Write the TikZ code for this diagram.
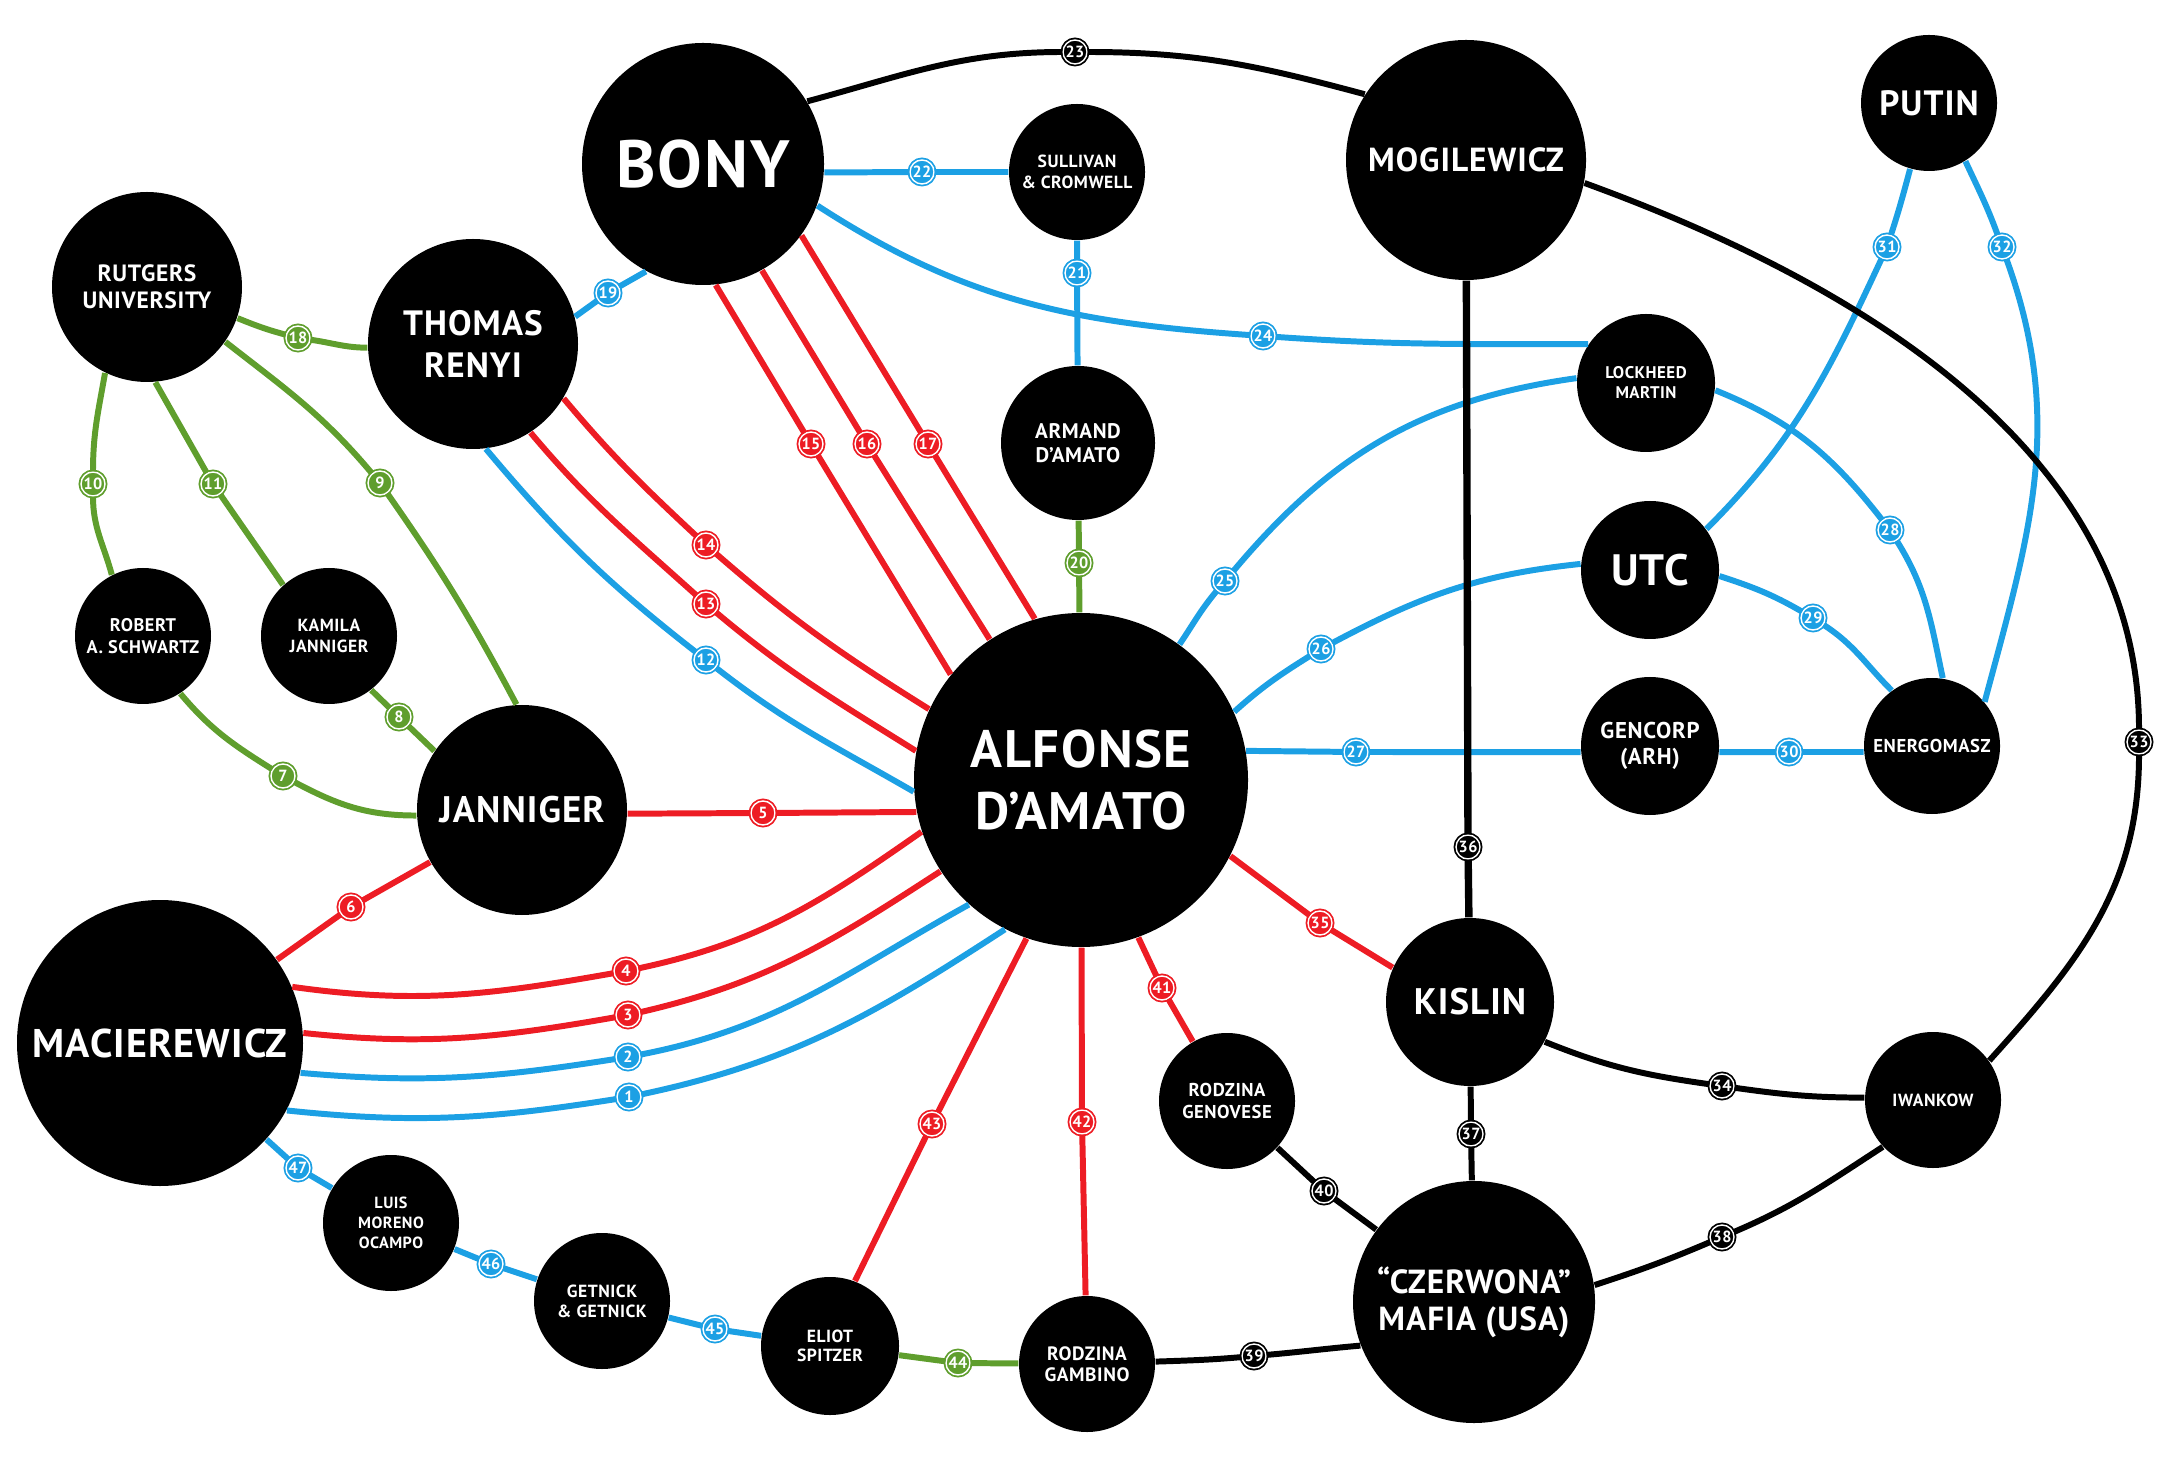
\documentclass[tikz,border=0pt]{standalone}
\usepackage{fontspec}
\setmainfont{PT Sans}[LetterSpace=3]
\usepackage{tikz}
\definecolor{linkred}{RGB}{237,28,36}
\definecolor{linkblue}{RGB}{28,160,228}
\definecolor{linkgreen}{RGB}{95,158,45}
\newcommand{\fsz}[2]{\fontsize{#1}{#2}\selectfont\bfseries}
\tikzset{
	man/.style={circle, fill=black, text=white, align=center, inner sep=0pt}, % the black discs
	badge/.style={circle, fill=#1, text=white, draw=white, line width=0.4pt, inner sep=0pt,
		minimum size=2.4mm, font=\fsz{4.6}{4.6}, preaction={draw=#1, line width=1.4pt}}, % numbered dots on the links
	redlink/.style={line width=1.7pt, linkred},
	bluelink/.style={line width=1.7pt, linkblue},
	greenlink/.style={line width=1.7pt, linkgreen},
	blacklink/.style={line width=1.7pt, black},
}

\begin{document}
\begin{tikzpicture}
	\useasboundingbox (0,0) rectangle (21.63,-14.79);
	% people and firms
	\node[man, minimum size=1.90cm, font=\fsz{6.7}{7.8}] (rutgers) at (1.47,-2.87) {RUTGERS\\UNIVERSITY};
	\node[man, minimum size=2.10cm, font=\fsz{10}{12.2}] (renyi) at (4.73,-3.44) {THOMAS\\RENYI};
	\node[man, minimum size=2.42cm, font=\fsz{19}{19}] (bony) at (7.03,-1.64) {BONY};
	\node[man, minimum size=1.36cm, font=\fsz{5}{5.8}] (sullivan) at (10.77,-1.72) {SULLIVAN\\\& CROMWELL};
	\node[man, minimum size=2.40cm, font=\fsz{9.5}{9.5}] (mogilewicz) at (14.66,-1.60) {MOGILEWICZ};
	\node[man, minimum size=1.36cm, font=\fsz{10}{10}] (putin) at (19.29,-1.03) {PUTIN};
	\node[man, minimum size=1.38cm, font=\fsz{4.8}{5.7}] (lockheed) at (16.46,-3.83) {LOCKHEED\\MARTIN};
	\node[man, minimum size=1.54cm, font=\fsz{6}{6.8}] (armand) at (10.78,-4.43) {ARMAND\\D'AMATO};
	\node[man, minimum size=1.38cm, font=\fsz{12.5}{12.5}] (utc) at (16.50,-5.70) {UTC};
	\node[man, minimum size=1.36cm, font=\fsz{5.2}{6.1}] (robert) at (1.43,-6.36) {ROBERT\\A. SCHWARTZ};
	\node[man, minimum size=1.36cm, font=\fsz{5}{6}] (kamila) at (3.29,-6.36) {KAMILA\\JANNIGER};
	\node[man, minimum size=3.34cm, font=\fsz{15}{17.6}] (alfonse) at (10.81,-7.80) {ALFONSE\\D'AMATO};
	\node[man, minimum size=1.38cm, font=\fsz{6.5}{7.5}] (gencorp) at (16.50,-7.46) {GENCORP\\(ARH)};
	\node[man, minimum size=1.36cm, font=\fsz{5.3}{5.3}] (energomasz) at (19.32,-7.46) {ENERGOMASZ};
	\node[man, minimum size=2.10cm, font=\fsz{10.5}{10.5}] (janniger) at (5.22,-8.10) {JANNIGER};
	\node[man, minimum size=2.86cm, font=\fsz{11.4}{11.4}] (macierewicz) at (1.60,-10.43) {MACIEREWICZ};
	\node[man, minimum size=1.68cm, font=\fsz{10.5}{10.5}] (kislin) at (14.70,-10.02) {KISLIN};
	\node[man, minimum size=1.36cm, font=\fsz{5.3}{6.4}] (genovese) at (12.27,-11.01) {RODZINA\\GENOVESE};
	\node[man, minimum size=1.36cm, font=\fsz{5}{5}] (iwankow) at (19.33,-11.00) {IWANKOW};
	\node[man, minimum size=1.36cm, font=\fsz{4.6}{5.6}] (ocampo) at (3.91,-12.23) {LUIS\\MORENO\\OCAMPO};
	\node[man, minimum size=1.36cm, font=\fsz{5}{5.6}] (getnick) at (6.02,-13.01) {GETNICK\\\& GETNICK};
	\node[man, minimum size=1.38cm, font=\fsz{5}{5.4}] (spitzer) at (8.30,-13.46) {ELIOT\\SPITZER};
	\node[man, minimum size=1.36cm, font=\fsz{5.5}{6.1}] (gambino) at (10.87,-13.64) {RODZINA\\GAMBINO};
	\node[man, minimum size=2.42cm, font=\fsz{9.5}{10.5}] (czerwona) at (14.74,-13.02) {“CZERWONA”\\MAFIA (USA)};

	% numbered dots
	\node[badge=linkblue] (b1) at (6.29,-10.97) {1};
	\node[badge=linkblue] (b2) at (6.28,-10.57) {2};
	\node[badge=linkred] (b3) at (6.28,-10.15) {3};
	\node[badge=linkred] (b4) at (6.26,-9.71) {4};
	\node[badge=linkred] (b5) at (7.63,-8.13) {5};
	\node[badge=linkred] (b6) at (3.51,-9.07) {6};
	\node[badge=linkgreen] (b7) at (2.83,-7.76) {7};
	\node[badge=linkgreen] (b8) at (3.99,-7.17) {8};
	\node[badge=linkgreen] (b9) at (3.80,-4.83) {9};
	\node[badge=linkgreen] (b10) at (0.93,-4.84) {10};
	\node[badge=linkgreen] (b11) at (2.13,-4.84) {11};
	\node[badge=linkblue] (b12) at (7.06,-6.60) {12};
	\node[badge=linkred] (b13) at (7.06,-6.04) {13};
	\node[badge=linkred] (b14) at (7.06,-5.45) {14};
	\node[badge=linkred] (b15) at (8.11,-4.44) {15};
	\node[badge=linkred] (b16) at (8.67,-4.44) {16};
	\node[badge=linkred] (b17) at (9.28,-4.44) {17};
	\node[badge=linkgreen] (b18) at (2.98,-3.38) {18};
	\node[badge=linkblue] (b19) at (6.08,-2.93) {19};
	\node[badge=linkgreen] (b20) at (10.79,-5.63) {20};
	\node[badge=linkblue] (b21) at (10.77,-2.73) {21};
	\node[badge=linkblue] (b22) at (9.22,-1.72) {22};
	\node[badge=black] (b23) at (10.75,-0.52) {23};
	\node[badge=linkblue] (b24) at (12.63,-3.36) {24};
	\node[badge=linkblue] (b25) at (12.25,-5.81) {25};
	\node[badge=linkblue] (b26) at (13.21,-6.49) {26};
	\node[badge=linkblue] (b27) at (13.56,-7.52) {27};
	\node[badge=linkblue] (b28) at (18.90,-5.30) {28};
	\node[badge=linkblue] (b29) at (18.13,-6.18) {29};
	\node[badge=linkblue] (b30) at (17.89,-7.52) {30};
	\node[badge=linkblue] (b31) at (18.87,-2.47) {31};
	\node[badge=linkblue] (b32) at (20.02,-2.47) {32};
	\node[badge=black] (b33) at (21.39,-7.42) {33};
	\node[badge=black] (b34) at (17.22,-10.86) {34};
	\node[badge=linkred] (b35) at (13.20,-9.23) {35};
	\node[badge=black] (b36) at (14.68,-8.47) {36};
	\node[badge=black] (b37) at (14.71,-11.34) {37};
	\node[badge=black] (b38) at (17.22,-12.37) {38};
	\node[badge=black] (b39) at (12.54,-13.56) {39};
	\node[badge=black] (b40) at (13.24,-11.91) {40};
	\node[badge=linkred] (b41) at (11.62,-9.88) {41};
	\node[badge=linkred] (b42) at (10.82,-11.22) {42};
	\node[badge=linkred] (b43) at (9.32,-11.24) {43};
	\node[badge=linkgreen] (b44) at (9.58,-13.63) {44};
	\node[badge=linkblue] (b45) at (7.15,-13.29) {45};
	\node[badge=linkblue] (b46) at (4.91,-12.64) {46};
	\node[badge=linkblue] (b47) at (2.98,-11.68) {47};

	% green links
	\draw[greenlink] (rutgers.-19) to[out=-22,in=165] (b18) to[out=-8,in=180] (renyi.182);
	\draw[greenlink] (rutgers.-116) to[out=-100,in=90] (b10) to[out=-90,in=105] (robert.117);
	\draw[greenlink] (rutgers.-85) -- (b11) -- (kamila.132);
	\draw[greenlink] (rutgers.-35) to[out=-38,in=130] (b9) to[out=-55,in=118] (janniger.93);
	\draw[greenlink] (robert.-57) to[out=-50,in=148] (b7) to[out=-28,in=180] (janniger.183);
	\draw[greenlink] (kamila.-52) -- (b8) -- (janniger.146);
	\draw[greenlink] (armand) -- (b20) -- (alfonse);
	\draw[greenlink] (spitzer) -- (b44) -- (gambino);

	% red links
	\draw[redlink] (macierewicz) -- (b6) -- (janniger);
	\draw[redlink] (janniger.-2) -- (b5) -- (alfonse.191);
	\draw[redlink] (macierewicz.23) to[out=-8,in=190] (b4) to[out=12,in=215] (alfonse.198);
	\draw[redlink] (macierewicz.4) to[out=-6,in=190] (b3) to[out=13,in=213] (alfonse.213);
	\draw[redlink] (renyi.-31) to[out=-50,in=137] (b14) to[out=-41,in=148] (alfonse.155);
	\draw[redlink] (renyi.-57) to[out=-50,in=138] (b13) to[out=-40,in=148] (alfonse.170);
	\draw[redlink] (bony.-84) -- (b15) -- (alfonse.141);
	\draw[redlink] (bony.-61) -- (b16) -- (alfonse.123);
	\draw[redlink] (bony.-36) -- (b17) -- (alfonse.106);
	\draw[redlink] (alfonse.-27) -- (b35) -- (kislin.156);
	\draw[redlink] (alfonse.-70) -- (b41) -- (genovese);
	\draw[redlink] (alfonse) -- (b42) -- (gambino);
	\draw[redlink] (alfonse.-109) -- (b43) -- (spitzer.69);

	% blue links
	\draw[bluelink] (macierewicz.-12) to[out=-5,in=189] (b2) to[out=11,in=209] (alfonse.228);
	\draw[bluelink] (macierewicz.-28) to[out=-6,in=189] (b1) to[out=12,in=213] (alfonse.243);
	\draw[bluelink] (renyi.-83) to[out=-50,in=142] (b12) to[out=-38,in=150] (alfonse.184);
	\draw[bluelink] (renyi.15) -- (b19) -- (bony.-118);
	\draw[bluelink] (bony.-4) -- (b22) -- (sullivan);
	\draw[bluelink] (sullivan) -- (b21) -- (armand);
	\draw[bluelink] (bony.-20) to[out=-33,in=176] (b24) to[out=-4,in=180] (lockheed.146);
	\draw[bluelink] (alfonse.54) to[out=56,in=230] (b25) to[out=50,in=188] (lockheed.176);
	\draw[bluelink] (alfonse.24) to[out=42,in=212] (b26) to[out=28,in=186] (utc.175);
	\draw[bluelink] (alfonse.10) -- (b27) -- (gencorp.185);
	\draw[bluelink] (gencorp.-5) -- (b30) -- (energomasz.185);
	\draw[bluelink] (lockheed.-6) to[out=-22,in=128] (b28) to[out=-58,in=102] (energomasz.81);
	\draw[bluelink] (utc.-5) to[out=-18,in=150] (b29) to[out=-33,in=135] (energomasz.126);
	\draw[bluelink] (utc.36) to[out=45,in=-115] (b31) to[out=72,in=-105] (putin.-106);
	\draw[bluelink] (putin.-58) to[out=-65,in=110] (b32) to[out=-70,in=75] (energomasz.40);
	\draw[bluelink] (macierewicz) -- (b47) -- (ocampo);
	\draw[bluelink] (ocampo) -- (b46) -- (getnick);
	\draw[bluelink] (getnick) -- (b45) -- (spitzer);

	% black links
	\draw[blacklink] (bony.31) to[out=15,in=180] (b23) to[out=0,in=165] (mogilewicz.147);
	\draw[blacklink] (mogilewicz.-11) to[out=-20,in=90,looseness=0.93] (b33) to[out=-90,in=48] (iwankow.35);
	\draw[blacklink, line width=2.1pt] (mogilewicz) -- (b36) -- (kislin);
	\draw[blacklink] (kislin) -- (b37) -- (czerwona);
	\draw[blacklink] (kislin.-28) to[out=-22,in=172] (b34) to[out=-8,in=180] (iwankow.178);
	\draw[blacklink] (czerwona.8) to[out=18,in=203] (b38) to[out=23,in=213] (iwankow.223);
	\draw[blacklink] (gambino) to[out=2,in=185] (b39) to[out=5,in=185] (czerwona.201);
	\draw[blacklink] (genovese) -- (b40) -- (czerwona);
\end{tikzpicture}
\end{document}
